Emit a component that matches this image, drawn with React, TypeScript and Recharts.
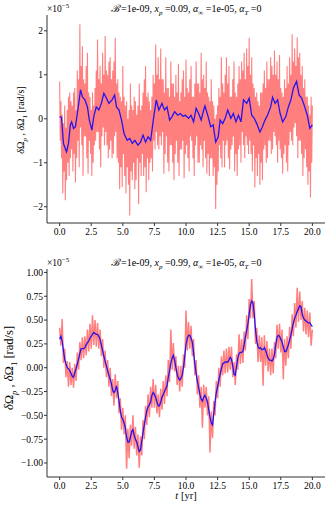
import { LineChart, Line, XAxis, YAxis } from 'recharts';

// sampling steps of the series, in years
const TOP_STEP = 0.05;
const BOTTOM_STEP = 0.1;

const X_TICKS = [0, 2.5, 5, 7.5, 10, 12.5, 15, 17.5, 20];
const TOP_Y_TICKS = [-2, -1, 0, 1, 2];
const BOTTOM_Y_TICKS = [-1, -0.75, -0.5, -0.25, 0, 0.25, 0.5, 0.75, 1];

// top panel: x_p = 0.09, raw (red) in units of 1e-5 rad/s, one row per year
const TOP_RAW = [
  0.85, -0.5, 0.4, -0.9, 0.1, -1.7, -0.1, -1.2, 0.3, -1.85, -0.2, -1.4, 0.2, -1.0, 0.5, -1.3, 0.6, -0.9, 0.4, -0.7,
  0.3, -1.2, 0.6, -0.8, 0.7, -1.45, 0.2, -0.9, 1.1, -0.5, 0.9, -1.1, 2.15, -0.2, 1.2, -0.6, 1.65, -1.3, 0.9, -0.4,
  0.8, -0.4, 1.2, -0.9, 1.5, -1.25, 0.6, -0.5, 0.5, -0.8, 0.2, -1.3, 0.6, -1.0, 0.3, -0.6, 0.7, -0.5, 1.1, -0.3,
  1.8, -0.3, 0.9, -0.7, 1.2, -1.1, 0.8, -0.4, 1.5, -0.2, 1.0, -0.6, 1.88, -0.3, 1.1, -0.6, 1.0, -0.9, 1.3, -0.7,
  1.4, -0.5, 0.9, -0.9, 1.1, -0.8, 1.3, -0.4, 1.84, -0.3, 0.8, -0.9, 0.9, -1.0, 0.6, -1.6, 0.5, -1.1, 0.4, -1.55,
  1.2, -0.8, 0.5, -1.3, 0.3, -1.7, 0.4, -1.1, 0.0, -1.5, 0.2, -2.2, 0.8, -1.2, 0.3, -1.4, 0.2, -1.0, 0.5, -1.6,
  0.4, -1.4, 0.1, -0.9, 0.3, -1.94, 0.8, -1.0, 0.2, -1.3, 0.3, -0.8, 0.6, -1.3, 0.9, -1.1, 1.2, -1.67, 0.5, -0.9,
  0.6, -1.4, 0.4, -1.0, 0.2, -0.9, 0.5, -1.2, 1.0, -0.5, 0.8, -0.7, 1.69, -0.3, 1.0, -0.6, 1.4, -0.7, 0.9, -0.4,
  1.6, -0.6, 0.9, -0.3, 0.9, -1.25, 0.6, -0.8, 1.4, -0.4, 0.7, -1.0, 0.7, -1.2, 0.5, -0.6, 1.3, -0.6, 0.8, -1.0,
  0.8, -1.4, 0.5, -0.8, 1.0, -0.5, 0.6, -1.0, 1.25, -1.3, 0.4, -0.7, 0.6, -0.7, 0.9, -0.5, 1.1, -1.35, 0.5, -0.8,
  1.35, -0.6, 0.7, -0.9, 0.6, -1.2, 0.9, -0.4, 1.2, -0.5, 0.5, -0.9, 0.5, -1.3, 0.8, -0.6, 1.3, -0.4, 0.8, -1.0,
  0.8, -1.0, 0.6, -0.6, 1.5, -0.7, 0.9, -1.1, 1.0, -0.5, 0.7, -0.9, 1.3, -1.25, 0.6, -0.8, 0.5, -1.3, 0.4, -0.9,
  0.9, -0.9, 0.4, -1.3, 0.3, -1.1, 0.0, -2.05, 0.1, -1.5, 0.3, -1.2, 0.7, -0.6, 0.5, -0.9, 1.4, -1.1, 0.8, -0.5,
  0.6, -1.1, 1.0, -0.6, 1.4, -0.5, 0.8, -0.9, 1.2, -1.15, 0.5, -0.7, 0.5, -0.6, 0.9, -0.4, 1.3, -1.2, 0.6, -0.8,
  0.5, -1.3, 0.8, -0.7, 1.2, -0.6, 0.9, -1.0, 1.3, -0.3, 1.1, -0.6, 1.5, -0.9, 0.9, -0.4, 1.6, -0.6, 1.2, -0.8,
  1.84, -0.5, 1.0, -0.8, 1.4, -1.2, 0.8, -0.6, 0.7, -1.56, 0.5, -0.9, 0.6, -1.3, 0.4, -0.8, 0.3, -1.5, 0.6, -1.0,
  0.6, -1.4, 0.8, -0.7, 1.1, -0.6, 0.7, -1.0, 1.3, -0.9, 0.9, -0.5, 0.9, -0.5, 1.4, -0.8, 1.2, -0.7, 1.0, -0.3,
  1.55, -0.4, 1.0, -0.6, 1.3, -1.0, 0.9, -0.5, 1.45, -0.7, 0.7, -0.9, 0.6, -1.25, 0.5, -0.8, 0.9, -0.6, 0.7, -1.0,
  1.2, -1.2, 0.8, -0.6, 1.4, -0.3, 1.0, -0.5, 1.92, -0.6, 1.3, -0.2, 1.6, -0.1, 1.2, -0.4, 1.85, -0.9, 1.4, -0.5,
  1.5, -0.5, 1.0, -0.8, 1.2, -1.3, 0.7, -0.9, 0.9, -0.7, 0.5, -1.1, 0.5, -1.5, 0.3, -1.2, 0.1, -1.79, 0.5, -1.0,
  0.3,
];

// top panel smoothed (blue), [t, value]
const TOP_SMOOTH: [number, number][] = [
  [0, 0.05], [0.15, 0.03], [0.3, -0.56], [0.45, -0.68], [0.55, -0.75], [0.7, -0.56],
  [0.85, -0.14], [0.95, -0.07], [1.1, -0.22], [1.25, -0.18], [1.4, 0.12], [1.55, 0.43],
  [1.65, 0.66], [1.8, 0.5], [2.0, 0.43], [2.2, 0.27], [2.35, -0.03], [2.55, -0.26],
  [2.7, 0.05], [2.9, 0.27], [3.1, 0.2], [3.3, 0.35], [3.5, 0.58], [3.7, 0.47],
  [3.9, 0.35], [4.15, 0.43], [4.35, 0.54], [4.5, 0.27], [4.7, 0.2], [4.9, -0.03],
  [5.1, -0.34], [5.35, -0.49], [5.55, -0.45], [5.75, -0.56], [5.95, -0.49], [6.2, -0.6],
  [6.4, -0.53], [6.6, -0.37], [6.8, -0.53], [7.0, -0.41], [7.2, -0.49], [7.45, 0.05],
  [7.65, 0.43], [7.85, 0.2], [8.1, 0.35], [8.3, 0.2], [8.5, 0.27], [8.7, -0.03],
  [8.9, 0.05], [9.1, 0.16], [9.35, 0.08], [9.55, 0.12], [9.75, 0.06], [9.95, 0.08],
  [10.2, 0.01], [10.4, 0.08], [10.6, -0.07], [10.8, 0.24], [11.0, 0.12], [11.2, -0.03],
  [11.4, 0.2], [11.5, 0.29], [11.75, 0.05], [11.95, -0.18], [12.15, -0.14], [12.35, -0.53],
  [12.55, -0.41], [12.7, -0.03], [12.9, -0.11], [13.1, 0.01], [13.3, 0.2], [13.55, 0.01],
  [13.75, 0.12], [13.95, -0.07], [14.15, 0.08], [14.35, -0.07], [14.55, 0.43], [14.8, 0.35],
  [15.0, 0.47], [15.2, 0.08], [15.4, 0.01], [15.6, -0.11], [15.85, -0.3], [16.05, -0.18],
  [16.25, -0.03], [16.45, 0.08], [16.7, 0.27], [16.85, 0.49], [17.05, 0.35], [17.25, 0.43],
  [17.45, 0.12], [17.65, -0.07], [17.9, 0.05], [18.1, 0.27], [18.3, 0.43], [18.5, 0.7],
  [18.75, 0.85], [18.95, 0.54], [19.15, 0.47], [19.35, 0.31], [19.6, 0.08], [19.8, -0.22],
  [20.0, -0.14],
];

// bottom panel: x_p = 0.99, raw (red)
const BOTTOM_RAW = [
  0.42, 0.23, 0.51, 0.05, 0.2, -0.1, 0.07, -0.2, 0.06, -0.18,
  0.0, -0.21, 0.04, -0.14, 0.16, -0.02, 0.27, 0.08, 0.32, 0.1,
  0.33, 0.13, 0.4, 0.17, 0.46, 0.2, 0.55, 0.24, 0.5, 0.22,
  0.47, 0.2, 0.4, 0.12, 0.3, 0.0, 0.18, -0.1, 0.08, -0.2,
  0.0, -0.3, -0.12, -0.4, -0.07, -0.32, -0.14, -0.48, -0.32, -0.65,
  -0.42, -0.7, -0.5, -1.06, -0.64, -0.95, -0.6, -0.82, -0.5, -0.85,
  -0.62, -0.92, -0.7, -1.05, -0.72, -0.92, -0.55, -0.75, -0.4, -0.6,
  -0.28, -0.52, -0.2, -0.42, -0.12, -0.42, -0.18, -0.48, -0.28, -0.52,
  -0.22, -0.44, -0.14, -0.38, -0.08, -0.3, 0.08, -0.15, 0.4, -0.02,
  0.26, -0.04, 0.12, -0.18, 0.02, -0.25, 0.02, -0.2, 0.14, 0.0,
  0.6, 0.18, 0.48, 0.2, 0.44, 0.12, 0.3, -0.08, 0.08, -0.28,
  -0.08, -0.42, -0.2, -0.63, -0.18, -0.42, -0.2, -0.5, -0.3, -0.89,
  -0.46, -0.74, -0.35, -0.5, -0.14, -0.32, 0.0, -0.2, 0.12, -0.08,
  0.18, -0.06, 0.2, -0.05, 0.22, -0.02, 0.22, -0.1, 0.06, -0.18,
  0.14, -0.02, 0.35, 0.04, 0.3, 0.05, 0.38, 0.18, 0.55, 0.3,
  0.72, 0.52, 0.93, 0.52, 0.7, 0.25, 0.42, 0.06, 0.34, 0.06,
  0.32, -0.19, 0.34, 0.02, 0.28, -0.04, 0.2, -0.08, 0.2, -0.06,
  0.27, 0.1, 0.45, 0.2, 0.46, 0.16, 0.4, -0.12, 0.3, 0.02,
  0.33, 0.1, 0.43, 0.2, 0.56, 0.33, 0.68, 0.42, 0.84, 0.48,
  0.8, 0.5, 0.7, 0.38, 0.63, 0.35, 0.6, 0.32, 0.58, 0.23,
  0.4,
];

// bottom panel smoothed (blue)
const BOTTOM_SMOOTH = [
  0.3, 0.33, 0.28, 0.18, 0.09, 0.04, 0.0, -0.01, -0.03, -0.06,
  -0.09, -0.1, -0.05, -0.01, 0.04, 0.09, 0.15, 0.2, 0.2, 0.2,
  0.21, 0.24, 0.26, 0.28, 0.31, 0.33, 0.35, 0.37, 0.36, 0.35,
  0.35, 0.33, 0.3, 0.24, 0.18, 0.12, 0.07, 0.02, -0.03, -0.08,
  -0.12, -0.17, -0.24, -0.26, -0.24, -0.19, -0.26, -0.35, -0.45, -0.52,
  -0.54, -0.58, -0.63, -0.73, -0.78, -0.78, -0.73, -0.67, -0.65, -0.71,
  -0.75, -0.78, -0.83, -0.88, -0.86, -0.77, -0.68, -0.6, -0.52, -0.45,
  -0.41, -0.39, -0.36, -0.29, -0.26, -0.28, -0.31, -0.36, -0.4, -0.4,
  -0.36, -0.31, -0.28, -0.25, -0.22, -0.19, -0.1, -0.03, 0.05, 0.1,
  0.13, 0.08, 0.0, -0.07, -0.11, -0.13, -0.11, -0.08, 0.0, 0.12,
  0.24, 0.31, 0.34, 0.34, 0.31, 0.27, 0.16, 0.04, -0.06, -0.14,
  -0.21, -0.28, -0.33, -0.35, -0.31, -0.29, -0.32, -0.36, -0.44, -0.52,
  -0.58, -0.6, -0.48, -0.36, -0.26, -0.2, -0.13, -0.07, -0.01, 0.04,
  0.05, 0.06, 0.06, 0.06, 0.08, 0.11, 0.09, 0.02, -0.07, -0.08,
  0.02, 0.1, 0.15, 0.16, 0.16, 0.17, 0.24, 0.32, 0.39, 0.46,
  0.56, 0.66, 0.7, 0.68, 0.56, 0.4, 0.28, 0.22, 0.2, 0.21,
  0.19, 0.19, 0.21, 0.18, 0.14, 0.1, 0.08, 0.08, 0.07, 0.09,
  0.14, 0.24, 0.32, 0.34, 0.33, 0.3, 0.27, 0.22, 0.17, 0.17,
  0.2, 0.24, 0.29, 0.34, 0.41, 0.47, 0.52, 0.55, 0.59, 0.62,
  0.65, 0.64, 0.56, 0.52, 0.5, 0.49, 0.48, 0.47, 0.47, 0.45,
  0.43,
];

const W = 331;
const H = 254;
const FONT = '"Liberation Serif", "DejaVu Serif", serif';
const tickStyle = { fontFamily: FONT, fontSize: 9.5, fill: '#000' };
const AXIS = '#333';

const sampled = (vals: number[], step: number) => vals.map((v, i) => ({ t: +(i * step).toFixed(2), v }));
const pairs = (pts: [number, number][]) => pts.map(([t, v]) => ({ t, v }));
const minus = (s: string) => s.replace('-', '\u2212');

interface PanelProps {
  raw: { t: number; v: number }[];
  smooth: { t: number; v: number }[];
  rawWidth: number;
  yDomain: [number, number];
  yTicks: number[];
  yDigits: number;
  xp: string;
  labelX: number;
  labelY: number;
  labelSize: number;
  showXLabel?: boolean;
}

function Panel({ raw, smooth, rawWidth, yDomain, yTicks, yDigits, xp, labelX, labelY, labelSize, showXLabel }: PanelProps) {
  return (
    <div style={{ position: 'relative', width: W, height: H }}>
      <LineChart width={W} height={H} margin={{ top: 15, right: 6, bottom: 0, left: 0 }}>
        <XAxis
          xAxisId="b"
          dataKey="t"
          type="number"
          domain={[-1, 21]}
          ticks={X_TICKS}
          tickFormatter={(v: number) => v.toFixed(1)}
          allowDataOverflow
          height={31}
          tickSize={3}
          tickMargin={2}
          tick={tickStyle}
          stroke={AXIS}
          tickLine={{ stroke: AXIS }}
        />
        <XAxis xAxisId="top" orientation="top" dataKey="t" type="number" domain={[-1, 21]} height={0} tick={false} tickLine={false} stroke={AXIS} />
        <YAxis
          yAxisId="l"
          type="number"
          domain={yDomain}
          ticks={yTicks}
          tickFormatter={(v: number) => minus(v.toFixed(yDigits))}
          allowDataOverflow
          width={47}
          tickSize={3}
          tickMargin={1}
          tick={tickStyle}
          stroke={AXIS}
          tickLine={{ stroke: AXIS }}
        />
        <YAxis yAxisId="r" orientation="right" type="number" domain={yDomain} width={0} tick={false} tickLine={false} stroke={AXIS} />
        <Line
          xAxisId="b"
          yAxisId="l"
          data={raw}
          dataKey="v"
          type="linear"
          stroke="#ff0000"
          strokeOpacity={0.5}
          strokeWidth={rawWidth}
          strokeLinejoin="bevel"
          dot={false}
          activeDot={false}
          isAnimationActive={false}
        />
        <Line
          xAxisId="b"
          yAxisId="l"
          data={smooth}
          dataKey="v"
          type="linear"
          stroke="#0000ff"
          strokeOpacity={0.85}
          strokeWidth={1.3}
          dot={false}
          activeDot={false}
          isAnimationActive={false}
        />
      </LineChart>
      <div
        style={{
          position: 'absolute', left: 47, top: 1, width: 278, textAlign: 'center',
          fontFamily: FONT, fontSize: 10, whiteSpace: 'nowrap',
        }}
      >
        <i>ℬ</i>&nbsp;=1e-09, <i>x</i><sub style={{ fontSize: 7 }}><i>p</i></sub> ={xp}, <i>α</i>
        <sub style={{ fontSize: 7 }}>∞</sub> =1e-05, <i>α</i>
        <sub style={{ fontSize: 7 }}><i>T</i></sub> =0
      </div>
      <div style={{ position: 'absolute', left: 47, top: 2, fontFamily: FONT, fontSize: 9.5 }}>
        ×10<sup style={{ fontSize: 7 }}>−5</sup>
      </div>
      <div
        style={{
          position: 'absolute', left: labelX, top: labelY, transform: 'translate(-50%, -50%) rotate(-90deg)',
          fontFamily: FONT, fontSize: labelSize, whiteSpace: 'nowrap', lineHeight: 1,
        }}
      >
        <i>δ</i>Ω<sub style={{ fontSize: labelSize * 0.7 }}><i>p</i></sub> , <i>δ</i>Ω
        <sub style={{ fontSize: labelSize * 0.7 }}>1</sub> [rad/s]
      </div>
      {showXLabel && (
        <div
          style={{
            position: 'absolute', left: 47, top: 236, width: 278, textAlign: 'center',
            fontFamily: FONT, fontSize: 10.5, lineHeight: '11px',
          }}
        >
          <i>t</i> [yr]
        </div>
      )}
    </div>
  );
}

export default function App() {
  return (
    <div style={{ position: 'absolute', left: 0, top: 0, width: W, height: 508, background: '#fff' }}>
      <Panel
        raw={sampled(TOP_RAW, TOP_STEP)}
        smooth={pairs(TOP_SMOOTH)}
        rawWidth={1.1}
        yDomain={[-2.37, 2.36]}
        yTicks={TOP_Y_TICKS}
        yDigits={0}
        xp="0.09"
        labelX={22}
        labelY={120}
        labelSize={10}
      />
      <Panel
        raw={sampled(BOTTOM_RAW, BOTTOM_STEP)}
        smooth={sampled(BOTTOM_SMOOTH, BOTTOM_STEP)}
        rawWidth={1.5}
        yDomain={[-1.147, 1.036]}
        yTicks={BOTTOM_Y_TICKS}
        yDigits={2}
        xp="0.99"
        labelX={11}
        labelY={114}
        labelSize={12.5}
        showXLabel
      />
    </div>
  );
}
